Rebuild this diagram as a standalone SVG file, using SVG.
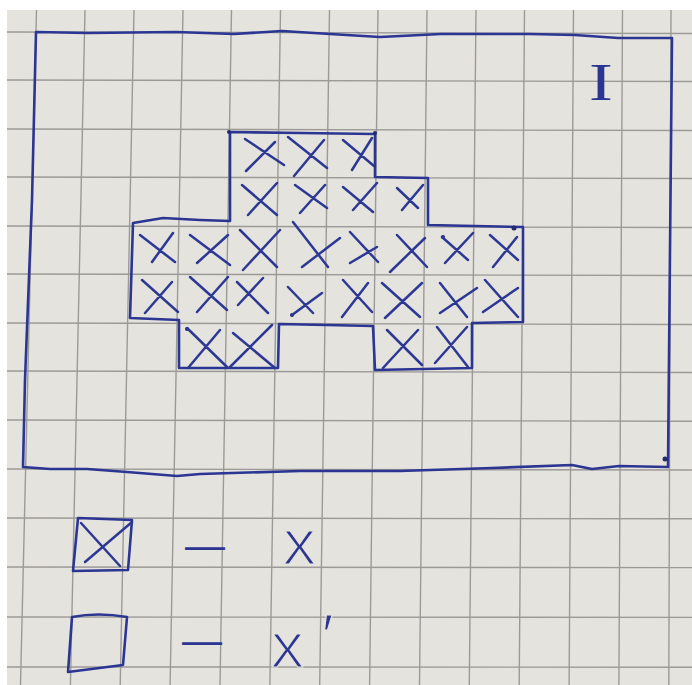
<svg xmlns="http://www.w3.org/2000/svg" width="692" height="685" viewBox="0 0 692 685">
<style>
.grid{stroke:#9c9a97;stroke-width:1.4;fill:none}
.pen{stroke:#2b3592;stroke-width:2.6;fill:none;stroke-linecap:round;stroke-linejoin:round}
.cross{stroke:#2d3895;stroke-width:2.5;fill:none;stroke-linecap:round}
.dot{fill:#232a6e}
.hw{fill:#2b3592;font-family:"Liberation Sans","DejaVu Sans",sans-serif;stroke:#e5e3de;stroke-width:1.2}
.dash{fill:#2b3592;font-family:"Liberation Sans","DejaVu Sans",sans-serif}
.roman{fill:#2b3592;font-family:"Liberation Serif","DejaVu Serif",serif}
</style>
<rect x="0" y="0" width="692" height="685" fill="#ffffff"/>
<rect x="7" y="10" width="685" height="675" fill="#e5e3de"/>
<g id="grid">
<path class="grid" d="M36.5,10 L20.5,685 M85,10 L70.4,685 M134,10 L120.2,685 M183,10 L170.1,685 M231.5,10 L220,685 M280.5,10 L269.9,685 M329.5,10 L319.7,685 M378,10 L369.6,685 M427,10 L419.5,685 M476,10 L469.3,685 M524.5,10 L519.2,685 M573.5,10 L569.1,685 M622.5,10 L618.9,685 M671,10 L668.8,685"/>
<path class="grid" d="M7,32 L692,33.5 M7,80 L692,81.5 M7,129 L692,130.5 M7,177 L692,178.5 M7,226 L692,227.5 M7,274 L692,275.5 M7,323 L692,324.5 M7,371 L692,372.5 M7,420 L692,421.2 M7,469 L692,470 M7,518 L692,518.8 M7,567 L692,567.6 M7,617 L692,617.4 M7,667 L692,667.2"/>
</g>
<g id="region-I">
<path class="pen" d="M36,32 L88,33 L176,32 L234,34 L282,31 L330,34 L380,37 L441,34 L530,34 L575,35 L618,38 L672,38 L670,250 L668,467 L619,466 L592,469 L572,465 L492,468 L400,471 L300,471 L200,474 L177,476 L127,472 L87,469 L50,469 L23,467 L25,380 L32,200 Z"/>
<circle class="dot" cx="665" cy="459" r="2.5"/>
<text class="roman" x="0" y="100" transform="translate(601,0) scale(1.35,1)" text-anchor="middle" font-size="53">I</text>
</g>
<g id="set-X">
<path class="pen" d="M230,132 L300,133 L375,134 L375,177 L428,178 L428,225 L523,227 L523,322 L472,323 L472,368 L375,370 L373,326 L279,324 L278,368 L179,368 L179,320 L130,318 L133,223 L163,218 L200,220 L230,221 Z"/>
<circle class="dot" cx="229" cy="132" r="2"/>
<circle class="dot" cx="375" cy="133" r="2"/>
<circle class="dot" cx="514" cy="228" r="2.5"/>
<circle class="dot" cx="443" cy="237" r="2"/>
<circle class="dot" cx="187" cy="329" r="2"/>
<circle class="dot" cx="292" cy="315" r="2"/>
<path class="cross" d="
M245,139 L284,165 M275,142 L246,171
M288,137 L327,168 M324,140 L294,176
M343,140 L374,166 M372,138 L352,170
M242,185 L277,215 M277,183 L248,215
M295,185 L327,208 M325,185 L300,213
M343,187 L373,212 M377,183 L353,210
M397,188 L418,208 M423,185 L402,210
M140,235 L175,262 M173,233 L152,262
M190,235 L230,265 M228,235 L197,263
M240,230 L277,267 M280,230 L243,270
M293,222 L328,267 M340,238 L302,267
M350,232 L378,262 M377,247 L350,263
M397,235 L427,267 M425,238 L390,272
M442,237 L468,260 M473,233 L445,263
M490,235 L518,260 M517,237 L493,267
M142,280 L178,312 M172,282 L145,313
M190,277 L227,310 M228,277 L197,312
M237,282 L268,313 M263,278 L238,305
M288,287 L313,313 M322,293 L292,315
M343,280 L372,312 M368,283 L342,317
M382,283 L420,317 M422,283 L385,318
M440,283 L467,317 M477,288 L440,313
M485,280 L518,317 M518,288 L483,312
M187,328 L227,367 M220,330 L188,368
M233,333 L275,368 M272,325 L230,367
M387,330 L422,365 M418,330 L383,368
M437,327 L468,367 M467,327 L435,363"/>
</g>
<g id="legend-x">
<path class="pen" d="M78,518 L132,520 L128,570 L73,571 Z"/>
<path class="cross" d="M81,523 L120,566 M132,522 L85,562"/>
<text class="dash" x="185" y="559" font-size="40">—</text>
<text class="hw" x="283" y="564" font-size="49">X</text>
</g>
<g id="legend-xprime">
<path class="pen" d="M72,617 Q98,612 127,617 L123,665 L68,672 Z"/>
<text class="dash" x="182" y="653.5" font-size="40">—</text>
<text class="hw" x="271" y="667" font-size="49">X<tspan x="322" y="656" font-size="60">′</tspan></text>
</g>
<g id="connectors"/>
</svg>
